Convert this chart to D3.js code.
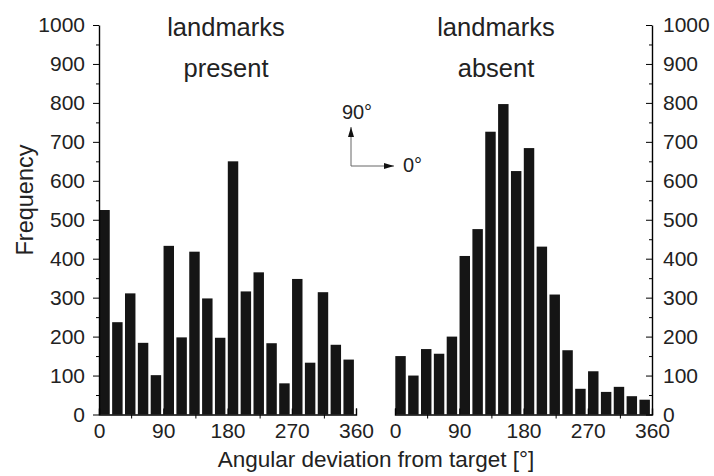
<!DOCTYPE html>
<html>
<head>
<meta charset="utf-8">
<script src="https://cdn.jsdelivr.net/npm/d3@7"></script>
<style>
  body { margin: 0; background: #fff; }
  svg text { font-family: "Liberation Sans", Arial, sans-serif; fill: #222; }
</style>
</head>
<body>
<svg id="chart" width="714" height="476"></svg>
<script>
// 18 degree bins, start angle of each bin
let bins = [0, 18, 36, 54, 72, 90, 108, 126, 144, 162, 180, 198, 216, 234, 252, 270, 288, 306, 324, 342];
let present = [525, 237, 311, 184, 101, 433, 198, 418, 298, 197, 650, 316, 365, 183, 80, 348, 133, 314, 179, 141];
let absent = [150, 100, 168, 156, 200, 407, 476, 726, 797, 625, 684, 431, 308, 165, 66, 111, 58, 71, 47, 38];
let yTicks = [0, 100, 200, 300, 400, 500, 600, 700, 800, 900, 1000];
let yMinor = [50, 150, 250, 350, 450, 550, 650, 750, 850, 950];
let xTicks = [0, 90, 180, 270, 360];
let xMinor = [45, 135, 225, 315];

var svg = d3.select("#chart");
var binW = 18;
var fmt = d3.format("d");

var y = d3.scaleLinear()
    .domain([0, 1000])
    .range([414.5, 25]);

function drawPanel(values, x0, x1) {
    var x = d3.scaleLinear()
        .domain([0, 360])
        .range([x0, x1]);

    var step = x(binW) - x(0);

    svg.append("g")
        .selectAll("rect")
        .data(values)
        .enter().append("rect")
        .attr("x", function (d, i) { return x(bins[i]) + 0.3; })
        .attr("y", function (d) { return y(d); })
        .attr("width", step - 2.4)
        .attr("height", function (d) { return y(0) - y(d); })
        .style("fill", "#151515");

    // major ticks point up (into the bars), labels below
    var xAxis = d3.axisBottom(x)
        .tickValues(xTicks)
        .tickSize(-6)
        .tickPadding(9)
        .tickFormat(fmt);
    var g = svg.append("g")
        .attr("transform", "translate(0," + y(0) + ")")
        .call(xAxis);
    g.select(".domain").attr("stroke-width", 1.4);
    g.selectAll("text").style("font-size", "21px").attr("fill", "#222");

    // minor ticks point down
    var gm = svg.append("g")
        .attr("transform", "translate(0," + y(0) + ")")
        .call(d3.axisBottom(x).tickValues(xMinor).tickSize(4).tickFormat(""));
    gm.select(".domain").remove();
    return x;
}

var xl = drawPanel(present, 99, 356);
var xr = drawPanel(absent, 395, 652);

// left y axis
var gl = svg.append("g")
    .attr("transform", "translate(99,0)")
    .call(d3.axisLeft(y).tickValues(yTicks).tickFormat(fmt).tickSize(6).tickPadding(8).tickSizeOuter(0));
gl.select(".domain").attr("stroke-width", 1.4);
gl.selectAll("text").style("font-size", "21px").attr("fill", "#222");
svg.append("g")
    .attr("transform", "translate(99,0)")
    .call(d3.axisLeft(y).tickValues(yMinor).tickSize(3).tickFormat(""))
    .select(".domain").remove();

// right y axis, ticks pointing left
var gr = svg.append("g")
    .attr("transform", "translate(652,0)")
    .call(d3.axisRight(y).tickValues(yTicks).tickFormat(fmt).tickSize(-6).tickPadding(11).tickSizeOuter(0));
gr.select(".domain").attr("stroke-width", 1.4);
gr.selectAll("text").style("font-size", "21px").attr("fill", "#222");
svg.append("g")
    .attr("transform", "translate(652,0)")
    .call(d3.axisRight(y).tickValues(yMinor).tickSize(-3).tickFormat(""))
    .select(".domain").remove();

// panel titles
var titles = [
    { x: 226, lines: ["landmarks", "present"] },
    { x: 496, lines: ["landmarks", "absent"] }
];
titles.forEach(function (t) {
    t.lines.forEach(function (s, i) {
        svg.append("text")
            .attr("x", t.x)
            .attr("y", 36 + i * 41)
            .attr("text-anchor", "middle")
            .style("font-size", "25.5px")
            .text(s);
    });
});

// axis titles
svg.append("text")
    .attr("transform", "translate(33,200) rotate(-90)")
    .attr("text-anchor", "middle")
    .style("font-size", "23.5px")
    .text("Frequency");

svg.append("text")
    .attr("x", 376)
    .attr("y", 467)
    .attr("text-anchor", "middle")
    .style("font-size", "22.5px")
    .text("Angular deviation from target [°]");

// direction key
var defs = svg.append("defs");
defs.append("marker")
    .attr("id", "head")
    .attr("viewBox", "0 0 10 6")
    .attr("refX", 10)
    .attr("refY", 3)
    .attr("markerWidth", 10)
    .attr("markerHeight", 6)
    .attr("markerUnits", "userSpaceOnUse")
    .attr("orient", "auto")
    .append("path")
    .attr("d", "M0,0L10,3L0,6Z")
    .style("fill", "#111");

svg.append("path")
    .attr("d", "M351,166V127")
    .attr("stroke", "#666")
    .attr("fill", "none")
    .attr("marker-end", "url(#head)");
svg.append("path")
    .attr("d", "M351,166H394")
    .attr("stroke", "#666")
    .attr("fill", "none")
    .attr("marker-end", "url(#head)");

svg.append("text")
    .attr("x", 357)
    .attr("y", 119)
    .attr("text-anchor", "middle")
    .style("font-size", "20px")
    .text("90°");
svg.append("text")
    .attr("x", 403)
    .attr("y", 172)
    .style("font-size", "20px")
    .text("0°");
</script>
</body>
</html>
